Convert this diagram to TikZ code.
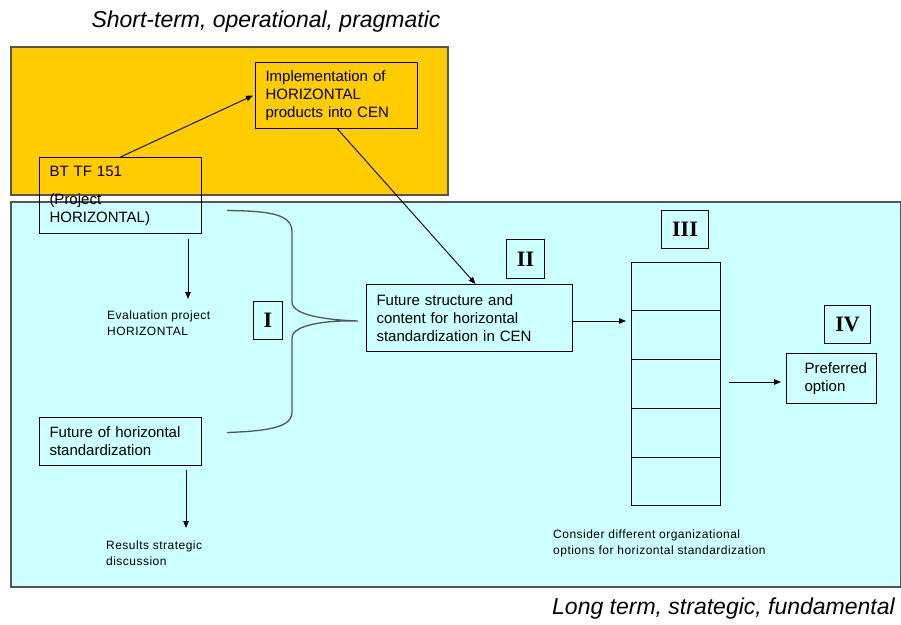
\documentclass[tikz,border=0pt]{standalone}
\usepackage{fontspec}
\setmainfont{Liberation Sans}
\newfontfamily\romfont{Liberation Serif}
\newfontfamily\notefont[LetterSpace=4]{Liberation Sans}
\usetikzlibrary{arrows.meta,calc}
\definecolor{orangebg}{HTML}{FFCC00}
\definecolor{bluebg}{HTML}{CCFFFF}
\definecolor{frame}{HTML}{555555}
\begin{document}
\begin{tikzpicture}[x=1pt,y=-1pt,
  zone/.style={draw=frame,line width=1.3pt},
  box/.style={draw=black,line width=1pt,anchor=north west,align=left,inner xsep=10pt,inner ysep=0pt,
    font=\fontsize{15}{18}\selectfont},
  numbox/.style={draw=black,line width=1pt,anchor=north west,inner sep=0pt,font=\romfont\bfseries\fontsize{22}{24}\selectfont},
  note/.style={anchor=north west,align=left,inner sep=0pt,font=\notefont\fontsize{12}{15.5}\selectfont},
  title/.style={inner sep=0pt,font=\itshape\fontsize{23}{26}\selectfont},
  arr/.style={draw=black,line width=0.9pt,-{Triangle[length=7pt,width=5.5pt]}},
  brace/.style={draw=frame,line width=1.3pt}]
\useasboundingbox (0,0) rectangle (901,624);
% zones
\path[zone,fill=orangebg] (11,47) rectangle (448,195);
\path[zone,fill=bluebg] (11,202) rectangle (900.5,587);
% titles
\node[title] (ttop) at (266,22) {Short-term, operational, pragmatic};
\node[title,anchor=east] (tbot) at (895,609) {Long term, strategic, fundamental};
% boxes
\node[box,text width=142pt,minimum height=66pt] (impl) at (255,62) {Implementation of\\HORIZONTAL\\products into CEN};
\node[box,text width=142pt,minimum height=76pt] (bt) at (39,157) {BT TF 151\\[10pt](Project\\HORIZONTAL)};
\node[box,text width=186pt,minimum height=67pt] (fs) at (366,284) {Future structure and\\content for horizontal\\standardization in CEN};
\node[box,text width=142pt,minimum height=48pt] (fot) at (39,417) {Future of horizontal\\standardization};
\node[draw=black,line width=1pt,anchor=north west,inner sep=0pt,minimum width=90pt,minimum height=50pt] (pref) at (786,353) {};
\node[box,draw=none,anchor=west,inner sep=0pt] (preftext) at ([xshift=18pt]pref.west) {Preferred\\option};
% numerals
\node[numbox,minimum width=29pt,minimum height=38pt] (n1) at (253,301) {I};
\node[numbox,minimum width=38pt,minimum height=39pt] (n2) at (506,239) {II};
\node[numbox,minimum width=47pt,minimum height=38pt] (n3) at (661,210) {III};
\node[numbox,minimum width=46pt,minimum height=38pt] (n4) at (824,305) {IV};
% column of options
\node[draw=black,line width=1pt,anchor=north west,minimum width=89pt,minimum height=243pt,inner sep=0pt] (col) at (631,262) {};
\foreach \yy in {310,359,408,457}{\draw[line width=1pt] (631,\yy) -- (720,\yy);}
% notes
\node[note] (eval) at (107,311) {Evaluation project\\HORIZONTAL};
\node[note] (res) at (106,541) {Results strategic\\discussion};
\node[note] (cons) at (553,530) {Consider different organizational\\options for horizontal standardization};
% connectors
\draw[arr] (bt.north) -- ([xshift=-2pt]impl.west);
\draw[arr] ([xshift=1pt]impl.south) -- ([xshift=6pt]fs.north);
\draw[arr] ([xshift=-14pt,yshift=-5pt]bt.south east) -- ([xshift=-14pt,yshift=-65pt]bt.south east);
\draw[arr] ([xshift=-16pt,yshift=-4pt]fot.south east) -- ([xshift=-16pt,yshift=-62pt]fot.south east);
\draw[arr,shorten >=5pt] ([yshift=-3pt]fs.east) -- ([yshift=-3pt]fs.east -| col.west);
\draw[arr,shorten <=8pt,shorten >=5pt] ([yshift=2pt]col.east) -- ([yshift=2pt]col.east -| pref.west);
% brace
\coordinate (tip) at ([xshift=-8pt,yshift=-3pt]fs.west);
\coordinate (bs) at ([xshift=25pt,yshift=-15pt]bt.east);
\coordinate (fe) at ([xshift=25pt,yshift=9pt]fot.east);
\draw[brace] (bs) .. controls (270,211) and (292,214) .. (292,232) -- (292,302)
  .. controls (292,316) and (330,320) .. (tip)
  .. controls (330,320) and (292,324) .. (292,338) -- (292,412)
  .. controls (292,427) and (270,431) .. (fe);
\end{tikzpicture}
\end{document}
